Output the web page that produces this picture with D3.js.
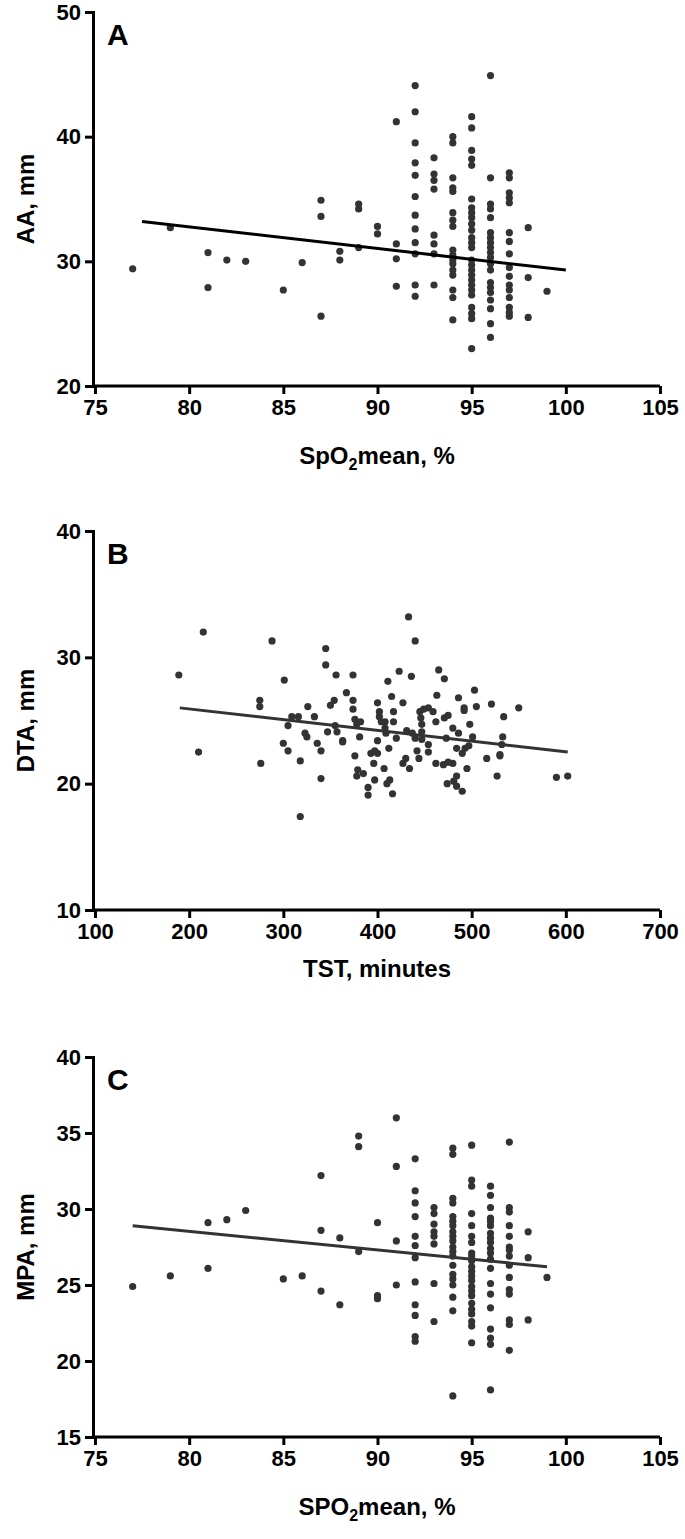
<!DOCTYPE html>
<html><head><meta charset="utf-8">
<script src="https://cdn.jsdelivr.net/npm/d3@7"></script>
<style>body{margin:0;background:#fff}svg{display:block}text{font-family:"Liberation Sans",Arial,sans-serif;font-weight:bold}</style>
</head><body>
<script>
// Panel A: x = SpO2 mean, y = AA
const aX = [77,79,81,81,82,83,85,86,87,87,87,88,88,89,89,89,90,90,91,91,91,91,
92,92,92,92,92,92,92,92,92,92,92,92, 93,93,93,93,93,93,93,93,
94,94,94,94,94,94,94,94,94,94,94,94,94,94,94,94,94,
95,95,95,95,95,95,95,95,95,95,95,95,95,95,95,95,95,95,95,95,95,95,95,95,95,95,
96,96,96,96,96,96,96,96,96,96,96,96,96,96,96,96,96,96,96,96,
97,97,97,97,97,97,97,97,97,97,97,97,97,97,97,97, 98,98,98, 99];
const aY = [29.4,32.7,30.7,27.9,30.1,30.0,27.7,29.9,34.9,33.6,25.6,30.8,30.1,34.6,34.2,31.1,32.8,32.2,41.2,31.4,30.2,28.0,
44.1,42.0,39.5,37.9,36.9,35.2,33.7,32.6,31.5,30.6,28.1,27.2, 38.3,37.0,36.5,35.8,32.1,31.4,30.6,28.1,
40.0,39.5,36.7,35.9,35.6,33.9,33.3,32.8,30.9,30.5,30.1,29.8,29.3,28.9,27.7,27.1,25.3,
41.6,40.7,38.9,38.2,37.7,35.0,34.3,33.9,33.5,33.0,32.5,31.9,31.5,31.1,30.1,29.7,29.3,28.9,28.5,28.1,27.7,27.3,26.3,25.8,25.4,23.0,
44.9,36.7,34.6,34.2,33.5,32.3,31.9,31.5,31.1,30.7,30.3,29.8,29.3,28.3,27.9,27.5,26.9,26.2,25.0,23.9,
37.1,36.7,35.5,35.1,34.7,32.3,31.6,30.6,29.5,28.8,28.1,27.7,27.1,26.3,25.9,25.6, 32.7,28.7,25.5, 27.6];
const aFitX = [77.5,100], aFitY = [33.2,29.3];

// Panel B: x = TST minutes, y = DTA
const bX = [189,215,210,288,301,275,275,276,309,305,316,300,305,318,318,326,333,323,325,336,340,340,345,345,356,350,354,355,347,357,363,363,367,374,374,374,376,378,382,381,376,379,378,385,390,390,397,393,397,400,396,400,400,402,402,404,408,411,412,407,410,413,416,408,409,415,417,417,420,423,427,431,433,436,440,427,430,434,437,440,442,444,445,446,447,447,447,449,454,459,454,454,462,463,465,471,471,475,473,462,470,475,480,480,484,481,474,484,490,486,484,486,492,492,490,493,497,495,498,501,503,505,516,521,527,530,530,532,533,534,550,590,602];
const bY = [28.6,32.0,22.5,31.3,28.2,26.6,26.1,21.6,25.3,24.6,25.3,23.2,22.6,21.8,17.4,26.1,25.3,24.0,23.7,23.2,22.6,20.4,30.7,29.4,28.6,26.2,26.6,24.6,24.1,24.1,23.4,23.3,27.2,26.6,28.6,25.9,25.1,24.7,24.9,23.7,22.2,21.1,20.6,20.8,19.7,19.1,20.3,22.4,22.6,22.4,21.6,23.4,26.4,25.7,25.3,24.9,24.9,28.1,22.8,21.2,20.0,20.3,19.2,24.4,24.0,26.9,25.7,24.9,23.6,28.9,26.4,24.2,33.2,28.5,31.3,21.6,22.0,21.2,24.0,23.6,22.6,22.0,25.7,25.2,24.7,24.1,23.5,25.9,26.0,25.7,23.1,22.5,24.9,27.0,29.0,28.3,25.2,25.4,23.6,21.6,21.5,21.7,21.6,24.4,20.6,20.2,20.0,19.8,19.4,24.0,22.8,26.8,26.0,25.8,22.4,22.8,23.0,21.2,24.7,23.7,27.4,26.1,22.0,26.3,20.6,22.2,22.3,23.1,23.7,25.3,26.0,20.5,20.6];
const bFitX = [190,602], bFitY = [26.0,22.5];

// Panel C: x = SPO2 mean, y = MPA
const cX = [77,79,81,81,82,83,85,86,87,87,87,88,88,89,89,89,90,90,90,91,91,91,91,
92,92,92,92,92,92,92,92,92,92,92,92, 93,93,93,93,93,93,93,93,
94,94,94,94,94,94,94,94,94,94,94,94,94,94,94,94,94,94,94,94,
95,95,95,95,95,95,95,95,95,95,95,95,95,95,95,95,95,95,95,95,95,95,95,
96,96,96,96,96,96,96,96,96,96,96,96,96,96,96,96,96,96,96,96,
97,97,97,97,97,97,97,97,97,97,97,97,97,97,97, 98,98,98, 99];
const cY = [24.9,25.6,29.1,26.1,29.3,29.9,25.4,25.6,32.2,28.6,24.6,28.1,23.7,34.8,34.1,27.2,29.1,24.3,24.1,36.0,32.8,27.9,25.0,
33.3,31.2,30.4,29.5,28.2,27.6,26.8,25.2,23.7,23.0,21.6,21.3, 30.1,29.7,29.0,28.5,28.2,27.7,25.1,22.6,
34.0,33.6,30.7,30.4,29.5,29.2,28.9,28.5,28.2,27.9,27.5,27.2,26.9,26.3,25.7,25.4,25.0,24.2,23.3,17.7,
34.2,31.9,31.5,29.7,28.9,28.2,27.8,27.1,26.9,26.6,26.2,25.9,25.6,25.3,24.9,24.6,24.3,23.8,23.4,23.1,22.6,22.3,21.2,
31.5,30.9,30.1,29.4,29.2,28.9,28.4,28.1,27.8,27.4,27.1,26.7,26.1,25.1,24.4,23.5,22.1,21.5,21.1,18.1,
34.4,30.1,29.8,28.9,28.2,27.5,27.3,26.9,26.3,25.5,24.7,24.4,22.7,22.4,20.7, 28.5,26.8,22.7, 25.5];
const cFitX = [77,99], cFitY = [28.9,26.2];

const xTicksSpO2 = [75,80,85,90,95,100,105];
const xTicksTST = [100,200,300,400,500,600,700];
const yTicksA = [20,30,40,50], yTicksB = [10,20,30,40], yTicksC = [15,20,25,30,35,40];

const svg = d3.select("body").append("svg").attr("width",685).attr("height",1539);

function panel(o){
  const x = d3.scaleLinear().domain(o.xd).range([95,660]);
  const y = d3.scaleLinear().domain(o.yd).range([o.y0,o.y1]);
  const g = svg.append("g");
  const ax = g.append("g").attr("transform",`translate(0,${o.y0})`)
    .call(d3.axisBottom(x).tickValues(o.xt).tickSize(8).tickPadding(5).tickFormat(d3.format("d")));
  const ay = g.append("g").attr("transform",`translate(93,0)`)
    .call(d3.axisLeft(y).tickValues(o.yt).tickSize(8).tickPadding(4).tickFormat(d3.format("d")));
  [ax,ay].forEach(a=>{a.select(".domain").attr("stroke","#000").attr("stroke-width",3);
    a.selectAll(".tick line").attr("stroke","#000").attr("stroke-width",3);
    a.selectAll("text").attr("font-size",22).attr("fill","#000").style("font-family","Liberation Sans,Arial").style("font-weight","bold");});
  ax.select(".domain").attr("d",`M${x(o.xd[0])-2},0H${x(o.xd[1])}`);
  g.selectAll("circle.p").data(o.xs).join("circle")
    .attr("cx",(d)=>x(d)).attr("cy",(d,i)=>y(o.ys[i])).attr("r",3.6).attr("fill","#333");
  g.append("line").attr("x1",x(o.fx[0])).attr("x2",x(o.fx[1]))
    .attr("y1",y(o.fy[0])).attr("y2",y(o.fy[1])).attr("stroke",o.lc).attr("stroke-width",3);
  g.append("text").attr("x",107).attr("y",o.y1+33).attr("font-size",30).text(o.letter);
  const t = g.append("text").attr("x",377).attr("y",o.y0+78).attr("text-anchor","middle").attr("font-size",24);
  o.xlab(t);
  g.append("text").attr("transform",`translate(34,${(o.y0+o.y1)/2}) rotate(-90)`)
    .attr("text-anchor","middle").attr("font-size",24).text(o.ylab);
}
function sub(a,b,c){return t=>{t.append("tspan").text(a);t.append("tspan").attr("font-size",16).attr("dy",6).text(b);t.append("tspan").attr("dy",-6).text(c);};}

panel({xd:[75,105],yd:[20,50],y0:386,y1:12,xt:xTicksSpO2,yt:yTicksA,xs:aX,ys:aY,fx:aFitX,fy:aFitY,lc:"#000",letter:"A",
  xlab:sub("SpO","2","mean, %"),ylab:"AA, mm"});
panel({xd:[100,700],yd:[10,40],y0:910,y1:531,xt:xTicksTST,yt:yTicksB,xs:bX,ys:bY,fx:bFitX,fy:bFitY,lc:"#333",letter:"B",
  xlab:t=>t.attr("y",910+67).text("TST, minutes"),ylab:"DTA, mm"});
panel({xd:[75,105],yd:[15,40],y0:1437,y1:1057,xt:xTicksSpO2,yt:yTicksC,xs:cX,ys:cY,fx:cFitX,fy:cFitY,lc:"#333",letter:"C",
  xlab:sub("SPO","2","mean, %"),ylab:"MPA, mm"});
</script>
</body></html>
